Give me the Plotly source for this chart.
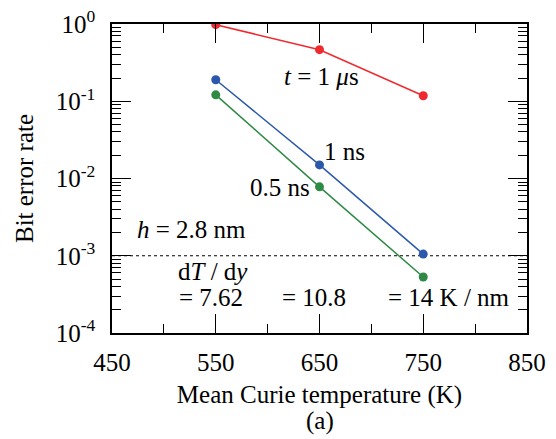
import plotly.graph_objects as go

temps = [550, 650, 750]
ber_1us = [0.98, 0.465, 0.118]
ber_1ns = [0.19, 0.015, 0.00105]
ber_05ns = [0.121, 0.0078, 0.00053]
threshold = 1e-3

x_ticks = [450, 550, 650, 750, 850]
y_ticks = [1e-4, 1e-3, 1e-2, 1e-1, 1]
y_ticktext = ["10<sup>-4</sup>", "10<sup>-3</sup>", "10<sup>-2</sup>", "10<sup>-1</sup>", "10<sup>0</sup>"]
x_minor = [500, 600, 700, 800]
y_minor = [m * 10 ** e for e in range(-4, 0) for m in range(2, 10)]

FONT = "Liberation Serif, Times New Roman, serif"
FS = 25
RED, BLUE, GREEN = "#ee2a2e", "#2b58aa", "#2f8a45"

fig = go.Figure()
fig.add_trace(go.Scatter(x=[450, 850], y=[threshold, threshold], mode="lines",
                         line=dict(color="black", width=1, dash="dot"), showlegend=False, hoverinfo="skip"))
for ys, c in [(ber_1us, RED), (ber_1ns, BLUE), (ber_05ns, GREEN)]:
    fig.add_trace(go.Scatter(x=temps, y=ys, mode="lines+markers",
                             line=dict(color=c, width=1.5),
                             marker=dict(color=c, size=9), showlegend=False))

ann = [
    dict(x=652, y=-0.683, text="<i>t</i> = 1 <i>μ</i>s", xanchor="center"),
    dict(x=652, y=-1.653, text="1 ns", xanchor="left"),
    dict(x=643, y=-2.12, text="0.5 ns", xanchor="right"),
    dict(x=472, y=-2.665, text="<i>h</i> = 2.8 nm", xanchor="left"),
    dict(x=547, y=-3.20, text="d<i>T</i> / d<i>y</i>", xanchor="center"),
    dict(x=545, y=-3.54, text="= 7.62", xanchor="center"),
    dict(x=645, y=-3.54, text="= 10.8", xanchor="center"),
    dict(x=775, y=-3.54, text="= 14 K / nm", xanchor="center"),
]
for a in ann:
    fig.add_annotation(xref="x", yref="y", showarrow=False, yanchor="middle",
                       font=dict(family=FONT, size=FS, color="black"), **a)

fig.add_annotation(xref="paper", yref="paper", x=0.5, y=-0.285, yanchor="middle",
                   text="(a)", showarrow=False, font=dict(family=FONT, size=FS, color="black"))

fig.update_xaxes(range=[450, 850], tickmode="array", tickvals=x_ticks, automargin=False,
                 ticks="inside", ticklen=19, tickwidth=1.3, tickcolor="black",
                 showline=True, linecolor="black", linewidth=1.5, mirror="ticks",
                 showgrid=False, zeroline=False, ticklabelstandoff=6,
                 minor=dict(tickmode="array", tickvals=x_minor, ticks="inside", ticklen=9,
                            tickwidth=1.3, tickcolor="black", showgrid=False),
                 tickfont=dict(family=FONT, size=FS, color="black"),
                 title=dict(text="Mean Curie temperature (K)", standoff=11,
                            font=dict(family=FONT, size=FS, color="black")))
fig.update_yaxes(type="log", range=[-4, 0], tickmode="array", tickvals=y_ticks, ticktext=y_ticktext,
                 automargin=False,
                 ticks="inside", ticklen=19, tickwidth=1.3, tickcolor="black",
                 showline=True, linecolor="black", linewidth=1.5, mirror="ticks",
                 showgrid=False, zeroline=False, ticklabelstandoff=10,
                 minor=dict(tickmode="array", tickvals=y_minor, ticks="inside", ticklen=9,
                            tickwidth=1.3, tickcolor="black", showgrid=False),
                 tickfont=dict(family=FONT, size=FS, color="black"),
                 title=dict(text="Bit error rate", standoff=15,
                            font=dict(family=FONT, size=FS, color="black")))

fig.update_layout(width=556, height=439, margin=dict(l=112, r=29, t=24, b=106),
                  plot_bgcolor="white", paper_bgcolor="white", showlegend=False)

fig.write_html("out.html")
